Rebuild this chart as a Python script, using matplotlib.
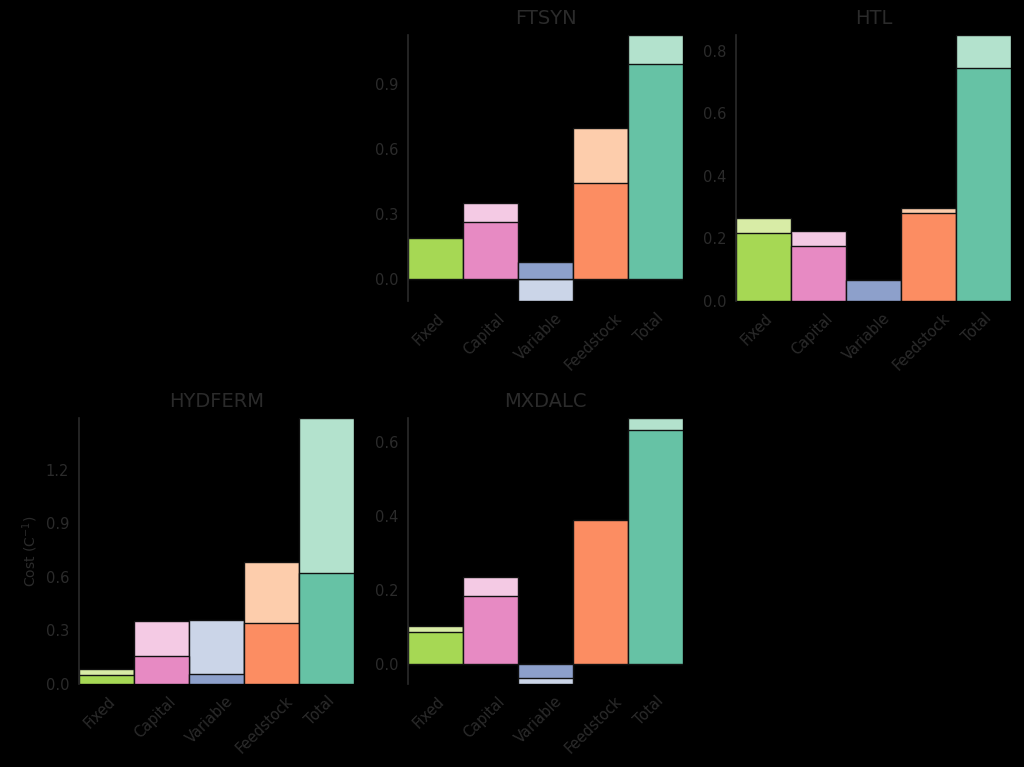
import matplotlib
matplotlib.use('Agg')
import matplotlib.pyplot as plt
import numpy as np

categories = ['Fixed', 'Capital', 'Variable', 'Feedstock', 'Total']

# value per panel: lower (dark) part and upper (light) part, both drawn from 0
ftsyn_low = [0.19, 0.263, 0.078, 0.443, 0.992]
ftsyn_high = [0.19, 0.351, -0.10, 0.697, 1.126]
htl_low = [0.219, 0.176, 0.066, 0.283, 0.744]
htl_high = [0.267, 0.224, 0.066, 0.299, 0.851]
hydferm_low = [0.049, 0.158, 0.056, 0.341, 0.623]
hydferm_high = [0.0825, 0.353, 0.358, 0.684, 1.491]
mxdalc_low = [0.087, 0.185, -0.036, 0.389, 0.634]
mxdalc_high = [0.105, 0.236, -0.053, 0.389, 0.666]

ftsyn_ticks = [0.0, 0.3, 0.6, 0.9]
htl_ticks = [0.0, 0.2, 0.4, 0.6, 0.8]
hydferm_ticks = [0.0, 0.3, 0.6, 0.9, 1.2]
mxdalc_ticks = [0.0, 0.2, 0.4, 0.6]

dark_colors = ['#a6d854', '#e78ac3', '#8da0cb', '#fc8d62', '#66c2a5']
light_colors = ['#d8eca6', '#f4cae4', '#cbd5e8', '#fdcdac', '#b3e2cd']

text_color = '#2b2b2b'
plt.rcParams['font.family'] = 'DejaVu Sans'
plt.rcParams['text.color'] = text_color
plt.rcParams['axes.labelcolor'] = text_color
plt.rcParams['xtick.color'] = text_color
plt.rcParams['ytick.color'] = text_color

fig = plt.figure(figsize=(10.24, 7.67), dpi=100, facecolor='black')

W, H = 1024., 767.
panels = [
    ('FTSYN', ftsyn_low, ftsyn_high, ftsyn_ticks, (408, 35, 683, 301)),
    ('HTL', htl_low, htl_high, htl_ticks, (736, 35, 1011, 301)),
    ('HYDFERM', hydferm_low, hydferm_high, hydferm_ticks, (79, 418, 354, 684)),
    ('MXDALC', mxdalc_low, mxdalc_high, mxdalc_ticks, (408, 418, 683, 684)),
]

x = np.arange(len(categories))
for name, low, high, ticks, (x0, y0, x1, y1) in panels:
    ax = fig.add_axes([x0 / W, (H - y1) / H, (x1 - x0) / W, (y1 - y0) / H])
    ax.set_facecolor('none')
    ax.bar(x, high, width=1, color=light_colors, edgecolor='#111111', linewidth=1)
    ax.bar(x, low, width=1, color=dark_colors, edgecolor='#111111', linewidth=1)
    allv = list(low) + list(high) + [0]
    ax.set_ylim(min(allv), max(allv))
    ax.set_xlim(-0.5, len(categories) - 0.5)
    ax.set_yticks(ticks)
    ax.set_yticklabels(['%.1f' % t for t in ticks])
    ax.set_xticks(x)
    ax.set_xticklabels([])
    for xi, cat in zip(x, categories):
        ax.annotate(cat, xy=(xi, 0), xycoords=('data', 'axes fraction'),
                    xytext=(-5, -7), textcoords='offset points',
                    rotation=45, ha='center', va='top', fontsize=10.5,
                    color=text_color, annotation_clip=False)
    ax.tick_params(axis='both', length=0, labelsize=10.5)
    ax.tick_params(axis='y', pad=7)
    for s in ['top', 'right', 'bottom']:
        ax.spines[s].set_visible(False)
    ax.spines['left'].set_color(text_color)
    ax.spines['left'].set_linewidth(1.2)
    ax.set_title(name, fontsize=14, color=text_color, pad=8)
    if name == 'HYDFERM':
        ax.set_ylabel('Cost (C$^{-1}$)', fontsize=10, labelpad=4)

fig.savefig('out.png', dpi=100, facecolor='black')
